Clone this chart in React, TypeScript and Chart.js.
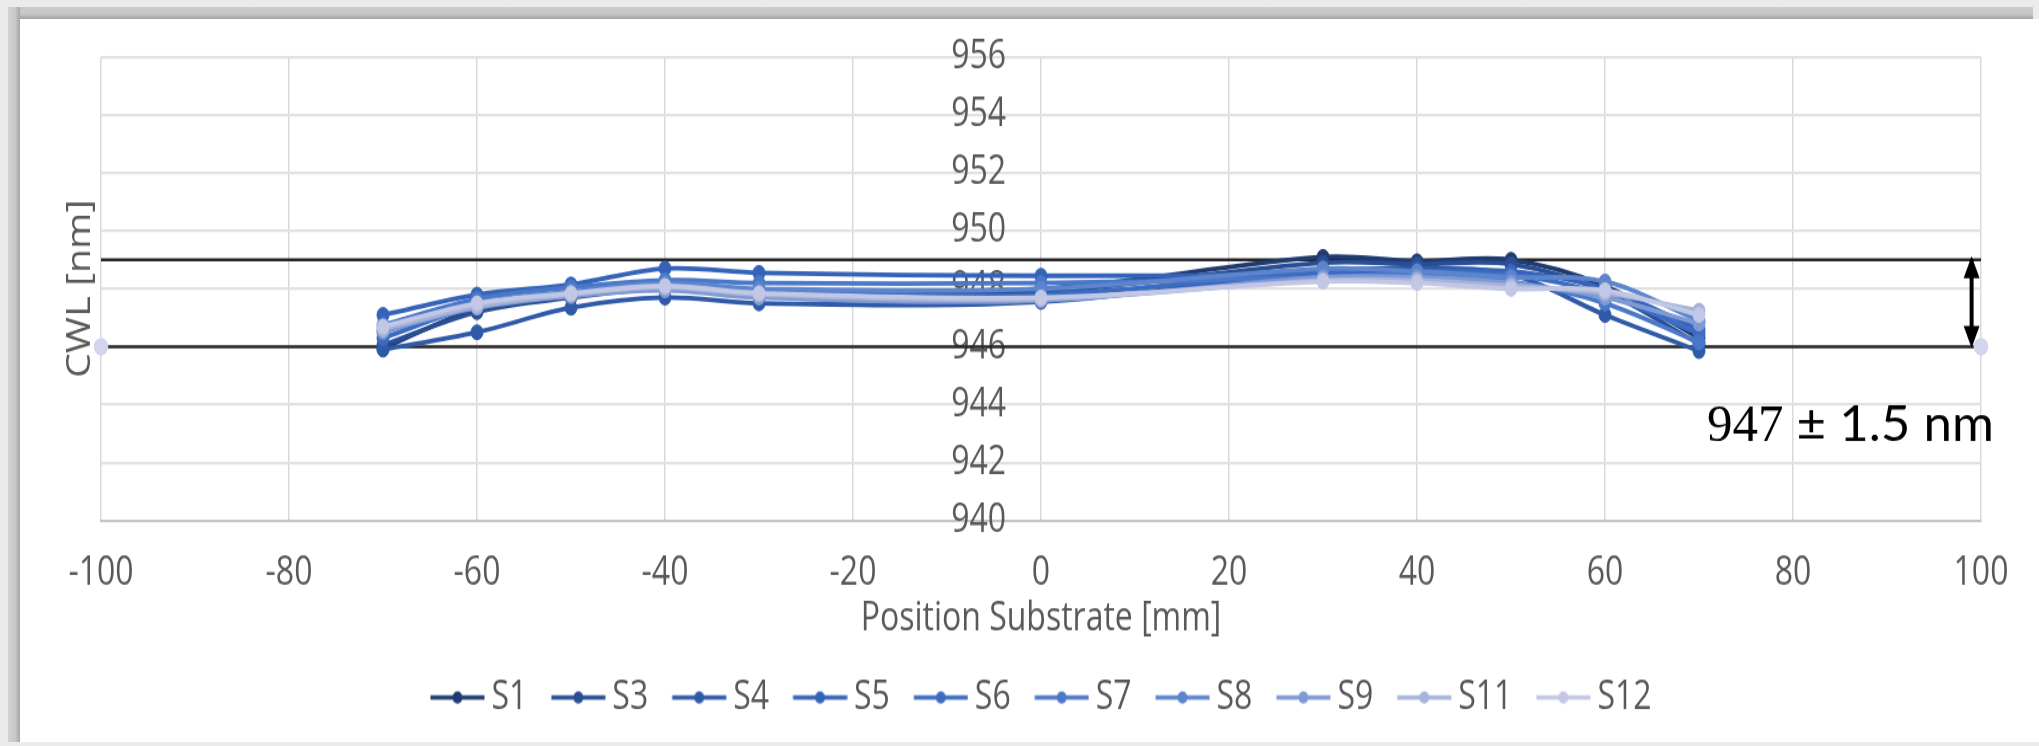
import React, { useEffect, useRef } from "react";
import { Chart, registerables } from "chart.js";

Chart.register(...registerables);

// ---------- data ----------
const POSITIONS = [-70, -60, -50, -40, -30, 0, 30, 40, 50, 60, 70];
const SERIES_NAMES = ["S1", "S3", "S4", "S5", "S6", "S7", "S8", "S9", "S11", "S12"];
const S1 = [945.95, 947.3, 947.8, 948.1, 947.95, 948.0, 949.1, 948.95, 949.0, 948.1, 946.3];
const S3 = [946.05, 947.2, 947.7, 948.0, 947.8, 947.9, 948.9, 948.85, 948.85, 947.9, 946.1];
const S4 = [945.9, 946.5, 947.35, 947.7, 947.5, 947.55, 948.6, 948.7, 948.5, 947.1, 945.85];
const S5 = [947.1, 947.8, 948.15, 948.7, 948.55, 948.45, 948.5, 948.6, 948.6, 948.0, 946.6];
const S6 = [946.3, 947.4, 947.8, 948.15, 947.95, 947.8, 948.6, 948.6, 948.5, 947.8, 946.45];
const S7 = [946.75, 947.65, 948.05, 948.3, 948.2, 948.2, 948.4, 948.5, 948.25, 947.5, 946.15];
const S8 = [946.5, 947.5, 947.9, 948.2, 948.0, 948.0, 948.7, 948.6, 948.4, 948.25, 946.9];
const S9 = [946.55, 947.35, 947.75, 947.95, 947.7, 947.6, 948.4, 948.4, 948.2, 947.7, 946.8];
const S11 = [946.6, 947.4, 947.8, 948.05, 947.8, 947.65, 948.3, 948.3, 948.1, 947.85, 947.25];
const S12 = [946.7, 947.5, 947.85, 948.1, 947.85, 947.7, 948.25, 948.2, 948.0, 947.95, 947.1];
const SERIES_VALUES = [S1, S3, S4, S5, S6, S7, S8, S9, S11, S12];
const SERIES_COLORS = [
  "#1f3b6f", "#2a4e93", "#2f5aa8", "#3463b8", "#3b6cc2",
  "#4a78c8", "#5c85cd", "#7e99d3", "#a6b3d9", "#c2c7e5",
];

const LIMIT_X = [-100, 100];
const UPPER_LIMIT = [949, 949];
const LOWER_LIMIT = [946, 946];
const ARROW_X = 99;
const ANNOT_X = 70.85;
const ANNOT_Y = 942.75;
const ANNOT_NUM = "947";
const ANNOT_REST = " ± 1.5 nm";

const X_MIN = -100, X_MAX = 100, X_STEP = 20;
const Y_MIN = 940, Y_MAX = 956, Y_STEP = 2;
const Y_LABEL_ANCHOR = -3.72; // y tick labels sit just left of x = 0
const X_TITLE = "Position Substrate [mm]";
const Y_TITLE = "CWL [nm]";

// ---------- layout ----------
const STRETCH = 1.23;
const BOX_W = 2019;
const BOX_H = 723;
const CANVAS_H = Math.round(BOX_H / STRETCH);
const TEXT_COLOR = "#595959";
const FONT_FAMILY = '"Open Sans", "Noto Sans", sans-serif';
const FS = 32;

function makeLegendIcon(color: string) {
  const c = document.createElement("canvas");
  c.width = 64;
  c.height = 16;
  const g = c.getContext("2d")!;
  g.strokeStyle = color;
  g.lineWidth = 3.5;
  g.beginPath();
  g.moveTo(9.5, 8);
  g.lineTo(63.5, 8);
  g.stroke();
  g.fillStyle = color;
  g.beginPath();
  g.arc(36.5, 8, 5, 0, Math.PI * 2);
  g.fill();
  return c;
}

const tolerancePlugin = {
  id: "tolerance",
  afterDatasetsDraw(chart: any) {
    const { ctx, scales, chartArea } = chart;
    const x = scales.x, y = scales.y;
    const ax = x.getPixelForValue(ARROW_X);
    const yTop = y.getPixelForValue(UPPER_LIMIT[0]) - 3;
    const yBot = y.getPixelForValue(LOWER_LIMIT[0]) + 1;
    const headH = 18, headW = 8;
    ctx.save();
    ctx.strokeStyle = "#000";
    ctx.fillStyle = "#000";
    ctx.lineWidth = 4;
    ctx.beginPath();
    ctx.moveTo(ax, yTop + headH - 2);
    ctx.lineTo(ax, yBot - headH + 2);
    ctx.stroke();
    ctx.beginPath();
    ctx.moveTo(ax, yTop);
    ctx.lineTo(ax - headW, yTop + headH);
    ctx.lineTo(ax + headW, yTop + headH);
    ctx.closePath();
    ctx.fill();
    ctx.beginPath();
    ctx.moveTo(ax, yBot);
    ctx.lineTo(ax - headW, yBot - headH);
    ctx.lineTo(ax + headW, yBot - headH);
    ctx.closePath();
    ctx.fill();

    // annotation text (drawn un-stretched)
    const tx = x.getPixelForValue(ANNOT_X);
    const ty = y.getPixelForValue(ANNOT_Y);
    ctx.translate(tx, ty);
    ctx.scale(1, 1 / STRETCH);
    ctx.textAlign = "left";
    ctx.textBaseline = "alphabetic";
    ctx.font = '51px "Liberation Serif", serif';
    ctx.fillText(ANNOT_NUM, 0, 0);
    const w = ctx.measureText(ANNOT_NUM).width;
    ctx.font = "51px Lato, sans-serif";
    ctx.fillText(ANNOT_REST, w, 0);
    ctx.restore();

    // y axis title
    ctx.save();
    ctx.translate(60.5, (chartArea.top + chartArea.bottom) / 2);
    ctx.rotate(-Math.PI / 2);
    ctx.fillStyle = TEXT_COLOR;
    ctx.font = `${FS}px ${FONT_FAMILY}`;
    ctx.textAlign = "center";
    ctx.textBaseline = "middle";
    ctx.fillText(Y_TITLE, 0, 0);
    ctx.restore();
  },
};

export default function App() {
  const ref = useRef<HTMLCanvasElement | null>(null);

  useEffect(() => {
    if (!ref.current) return;
    const seriesSets = SERIES_VALUES.map((vals, i) => ({
      label: SERIES_NAMES[i],
      data: POSITIONS.map((p, j) => ({ x: p, y: vals[j] })),
      borderColor: SERIES_COLORS[i],
      backgroundColor: SERIES_COLORS[i],
      pointBackgroundColor: SERIES_COLORS[i],
      pointBorderColor: SERIES_COLORS[i],
      pointBorderWidth: 1,
      pointRadius: 6,
      borderWidth: 3.8,
      tension: 0.35,
      order: 10 - i,
    }));
    const limitSets = [
      {
        label: "upper",
        data: LIMIT_X.map((p, j) => ({ x: p, y: UPPER_LIMIT[j] })),
        borderColor: "#262626",
        borderWidth: 2.5,
        pointRadius: 0,
        tension: 0,
        order: 20,
        clip: false as any,
      },
      {
        label: "lower",
        data: LIMIT_X.map((p, j) => ({ x: p, y: LOWER_LIMIT[j] })),
        borderColor: "#262626",
        borderWidth: 2.5,
        pointRadius: 6,
        pointBackgroundColor: "#d3d4ee",
        pointBorderColor: "#d3d4ee",
        tension: 0,
        order: 20,
        clip: false as any,
      },
    ];

    const chart = new Chart(ref.current, {
      type: "line",
      data: { datasets: [...seriesSets, ...limitSets] as any },
      options: {
        animation: false,
        responsive: false,
        maintainAspectRatio: false,
        devicePixelRatio: 1,
        events: [],
        layout: { padding: { left: 81, right: 58, top: 30.9, bottom: 10.4 } },
        font: { family: FONT_FAMILY, size: FS },
        scales: {
          x: {
            type: "linear",
            min: X_MIN,
            max: X_MAX,
            ticks: {
              stepSize: X_STEP,
              color: TEXT_COLOR,
              padding: 23.5,
              font: { family: FONT_FAMILY, size: FS },
            },
            grid: { color: "#d9d9d9", lineWidth: 1.5, drawTicks: false },
            border: { color: "#c4c4c4", width: 2 },
            title: {
              display: true,
              text: X_TITLE,
              color: TEXT_COLOR,
              font: { family: FONT_FAMILY, size: FS },
              padding: { top: -24.9, bottom: 4.9 },
            },
          },
          y: {
            type: "linear",
            position: { x: Y_LABEL_ANCHOR } as any,
            min: Y_MIN,
            max: Y_MAX,
            ticks: {
              stepSize: Y_STEP,
              color: TEXT_COLOR,
              padding: 0,
              font: { family: FONT_FAMILY, size: FS },
            },
            grid: { color: "#e1e1e1", lineWidth: 2.2, drawTicks: false },
            border: { display: false },
            title: { display: false },
          },
        },
        plugins: {
          tooltip: { enabled: false },
          legend: {
            display: true,
            position: "bottom",
            labels: {
              usePointStyle: true,
              pointStyleWidth: 45,
              padding: 24,
              color: TEXT_COLOR,
              font: { family: FONT_FAMILY, size: FS },
              filter: (item: any) => item.datasetIndex < SERIES_NAMES.length,
              sort: (a: any, b: any) => a.datasetIndex - b.datasetIndex,
              generateLabels: (ch: any) => {
                const items = (Chart.defaults.plugins.legend.labels as any).generateLabels(ch);
                return items.map((it: any) => ({
                  ...it,
                  pointStyle:
                    it.datasetIndex < SERIES_COLORS.length
                      ? makeLegendIcon(SERIES_COLORS[it.datasetIndex])
                      : it.pointStyle,
                }));
              },
            },
          },
        },
      },
      plugins: [tolerancePlugin],
    });
    return () => chart.destroy();
  }, []);

  return (
    <div
      style={{
        position: "fixed",
        left: 0,
        top: 0,
        width: 2039,
        height: 746,
        background: "#ebebeb",
        overflow: "hidden",
      }}
    >
      <div
        style={{
          position: "absolute",
          left: 8,
          top: 7,
          width: 2025,
          height: 12,
          background: "linear-gradient(#cbcbcb 0%, #c6c6c6 60%, #a2a2a2 100%)",
        }}
      />
      <div
        style={{
          position: "absolute",
          left: 8,
          top: 7,
          width: 12,
          height: 735,
          background: "linear-gradient(90deg, #d2d2d2 0%, #c8c8c8 60%, #a6a6a6 100%)",
        }}
      />
      <div
        style={{
          position: "absolute",
          left: 20,
          top: 19,
          width: BOX_W,
          height: BOX_H,
          background: "#ffffff",
          overflow: "hidden",
        }}
      >
        <div
          style={{
            position: "absolute",
            left: 0,
            top: 0,
            transform: `scale(1, ${STRETCH})`,
            transformOrigin: "0 0",
          }}
        >
          <canvas ref={ref} width={BOX_W} height={CANVAS_H} />
        </div>
      </div>
    </div>
  );
}
